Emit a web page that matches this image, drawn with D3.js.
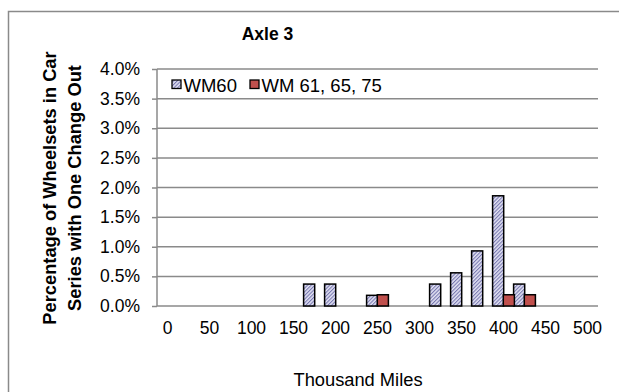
<!DOCTYPE html>
<html>
<head>
<meta charset="utf-8">
<script src="https://cdn.jsdelivr.net/npm/d3@7"></script>
<style>
  html, body { margin: 0; padding: 0; background: #fff; }
  svg { display: block; font-family: "Liberation Sans", Arial, sans-serif; }
</style>
</head>
<body>
<svg id="chart" width="619" height="392"></svg>
<script>
// ---- data ----
const categories = [0, 25, 50, 75, 100, 125, 150, 175, 200, 225, 250, 275, 300, 325, 350, 375, 400, 425, 450, 475, 500];
const tickLabels = ["0", "50", "100", "150", "200", "250", "300", "350", "400", "450", "500"];
const seriesNames = ["WM60", "WM 61, 65, 75"];
const wm60Values = [0, 0, 0, 0, 0, 0, 0, 0.37, 0.37, 0, 0.18, 0, 0, 0.37, 0.56, 0.93, 1.86, 0.37, 0, 0, 0];
const wm61Values = [0, 0, 0, 0, 0, 0, 0, 0, 0, 0, 0.19, 0, 0, 0, 0, 0, 0.19, 0.19, 0, 0, 0];
const yTicks = [0, 0.5, 1.0, 1.5, 2.0, 2.5, 3.0, 3.5, 4.0];
const chartTitle = "Axle 3";
const yTitleLines = ["Percentage of Wheelsets in Car", "Series with One Change Out"];
const xTitle = "Thousand Miles";

// ---- layout ----
const svg = d3.select("#chart");
const plot = { left: 157, right: 598, top: 69, bottom: 306 };

const defs = svg.append("defs");
const pat = defs.append("pattern")
  .attr("id", "hatch").attr("patternUnits", "userSpaceOnUse")
  .attr("width", 2.6).attr("height", 2.6)
  .attr("patternTransform", "rotate(45)");
pat.append("rect").attr("width", 2.6).attr("height", 2.6).attr("fill", "#e4e4f4");
pat.append("rect").attr("width", 1.1).attr("height", 2.6).attr("fill", "#7878b0");

// outer frame
svg.append("path")
  .attr("d", "M8.5,392 V11.5 H619")
  .attr("fill", "none").attr("stroke", "#8a8a8a").attr("stroke-width", 1.5);

const x = d3.scaleBand().domain(categories).range([plot.left, plot.right]).paddingInner(0).paddingOuter(0);
const y = d3.scaleLinear().domain([0, 4]).range([plot.bottom, plot.top]);

// gridlines
svg.append("g").selectAll("line").data(yTicks).join("line")
  .attr("x1", plot.left).attr("x2", plot.right)
  .attr("y1", d => y(d)).attr("y2", d => y(d))
  .attr("stroke", "#8a8a8a").attr("stroke-width", 1.5);

// y axis
const yAxis = svg.append("g").attr("transform", `translate(${plot.left},0)`)
  .call(d3.axisLeft(y).tickValues(yTicks).tickSize(5).tickPadding(12).tickFormat(d => d3.format(".1f")(d) + "%"));
yAxis.select(".domain").attr("stroke", "#8a8a8a").attr("stroke-width", 1.5).attr("d", `M0,${plot.top}V${plot.bottom}`);
yAxis.selectAll(".tick line").attr("stroke", "#8a8a8a").attr("stroke-width", 1.5);
yAxis.selectAll(".tick text").attr("font-size", 17.5).attr("fill", "#000")
  .attr("font-family", "Liberation Sans, Arial, sans-serif");

// x axis labels (every other category)
const xAxis = svg.append("g").attr("transform", `translate(0,${plot.bottom})`)
  .call(d3.axisBottom(x).tickValues(categories.filter((c, i) => i % 2 === 0)).tickSize(0).tickPadding(16)
    .tickFormat((d, i) => tickLabels[i]));
xAxis.select(".domain").remove();
xAxis.selectAll(".tick text").attr("font-size", 17.5).attr("fill", "#000")
  .attr("font-family", "Liberation Sans, Arial, sans-serif");

// bars
const bw = x.bandwidth();
const barW = bw / 2 + 0.6;
const seriesData = [
  { name: seriesNames[0], values: wm60Values, fill: "url(#hatch)", off: -0.4 },
  { name: seriesNames[1], values: wm61Values, fill: "#c0504d", off: bw / 2 - 0.2 }
];
seriesData.forEach(s => {
  svg.append("g").selectAll("rect")
    .data(categories.map((c, i) => ({ c, v: s.values[i] })).filter(d => d.v > 0))
    .join("rect")
    .attr("x", d => x(d.c) + s.off)
    .attr("y", d => y(d.v))
    .attr("width", barW)
    .attr("height", d => y(0) - y(d.v))
    .attr("fill", s.fill)
    .attr("stroke", "#000").attr("stroke-width", 1.5);
});

// legend
const legend = svg.append("g").attr("font-size", 18.5).attr("font-family", "Liberation Sans, Arial, sans-serif");
const legX = [172, 250];
seriesData.forEach((s, i) => {
  legend.append("rect").attr("x", legX[i]).attr("y", 80).attr("width", 9).attr("height", 8.5)
    .attr("fill", s.fill).attr("stroke", "#000").attr("stroke-width", 1.3);
  legend.append("text").attr("x", legX[i] + 11.5).attr("y", 91.5).text(s.name);
});

// title
svg.append("text").attr("x", 267.5).attr("y", 40).attr("text-anchor", "middle")
  .attr("font-size", 17.5).attr("font-weight", "bold").text(chartTitle);

// y title
const yt = svg.append("text").attr("transform", "translate(0,188) rotate(-90)")
  .attr("text-anchor", "middle").attr("font-size", 18.3).attr("font-weight", "bold");
yTitleLines.forEach((t, i) => {
  yt.append("tspan").attr("x", 0).attr("y", 56 + i * 25).text(t);
});

// x title
svg.append("text").attr("x", 358).attr("y", 385.5).attr("text-anchor", "middle")
  .attr("font-size", 18.3).text(xTitle);
</script>
</body>
</html>
